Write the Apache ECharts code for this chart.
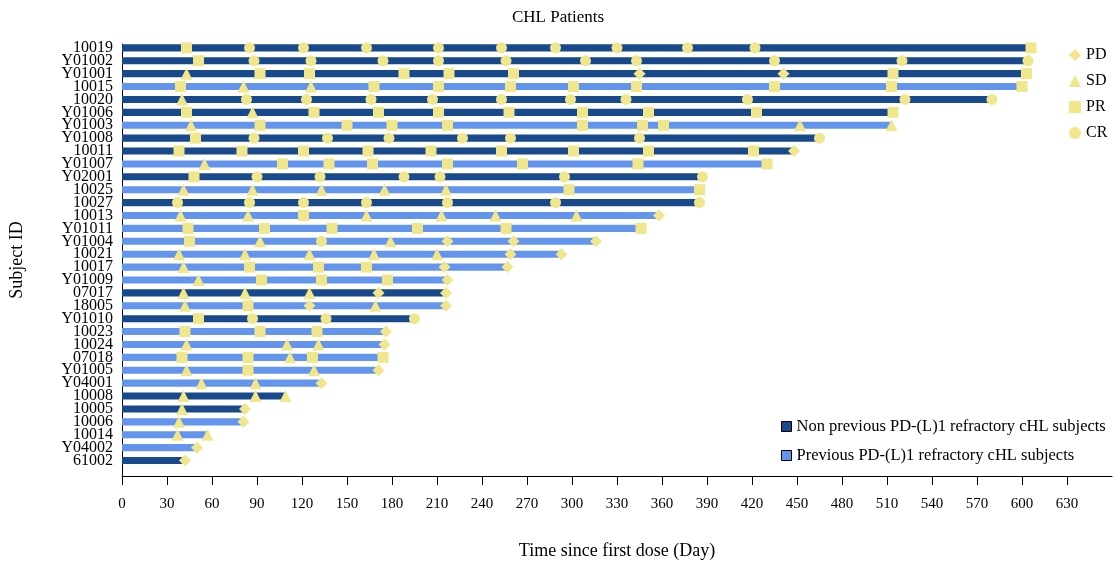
<!DOCTYPE html>
<html>
<head>
<meta charset="utf-8">
<title>CHL Patients</title>
<script src="https://cdn.jsdelivr.net/npm/echarts@6/dist/echarts.min.js"></script>
<style>
  html, body { margin: 0; padding: 0; background: #fff; }
  #chart { width: 1116px; height: 568px; }
</style>
</head>
<body>
<div id="chart"></div>
<script>
// Subjects, top to bottom
const subjects = ['10019','Y01002','Y01001','10015','10020','Y01006','Y01003','Y01008','10011','Y01007',
  'Y02001','10025','10027','10013','Y01011','Y01004','10021','10017','Y01009','07017',
  '18005','Y01010','10023','10024','07018','Y01005','Y04001','10008','10005','10006',
  '10014','Y04002','61002'];

// 1 = previous PD-(L)1 refractory cHL subject, 0 = non previous
const refractory = [0,0,0,1,0,0,1,0,0,1,
  0,1,0,1,1,1,1,1,1,0,
  1,0,1,1,1,1,1,0,0,1,
  1,1,0];

// Time on study (days)
const duration = [606,604,603,600,580,514,513,465,448,430,
  387,385,385,358,346,316,293,257,217,216,
  216,195,176,175,174,171,133,109,82,81,
  57,50,42];

// Response assessments per subject: [day, response]
const visits = [
  [[43,'PR'],[85,'CR'],[121,'CR'],[163,'CR'],[211,'CR'],[253,'CR'],[289,'CR'],[330,'CR'],[377,'CR'],[422,'CR'],[606,'PR']],
  [[51,'PR'],[88,'CR'],[126,'CR'],[174,'CR'],[211,'CR'],[256,'CR'],[309,'CR'],[343,'CR'],[435,'CR'],[520,'CR'],[604,'CR']],
  [[43,'SD'],[92,'PR'],[125,'PR'],[188,'PR'],[218,'PR'],[261,'PR'],[345,'PD'],[441,'PD'],[514,'PR'],[603,'PR']],
  [[39,'PR'],[81,'SD'],[126,'SD'],[168,'PR'],[211,'PR'],[259,'PR'],[301,'PR'],[343,'PR'],[435,'PR'],[513,'PR'],[600,'PR']],
  [[40,'SD'],[83,'CR'],[123,'CR'],[166,'CR'],[207,'CR'],[253,'CR'],[299,'CR'],[336,'CR'],[417,'CR'],[522,'CR'],[580,'CR']],
  [[43,'PR'],[87,'SD'],[128,'PR'],[171,'PR'],[211,'PR'],[258,'PR'],[307,'PR'],[351,'PR'],[423,'PR'],[514,'PR']],
  [[46,'SD'],[92,'PR'],[150,'PR'],[180,'PR'],[217,'PR'],[307,'PR'],[347,'PR'],[361,'PR'],[452,'SD'],[513,'SD']],
  [[49,'PR'],[88,'CR'],[137,'CR'],[178,'CR'],[227,'CR'],[259,'CR'],[345,'CR'],[465,'CR']],
  [[38,'PR'],[80,'PR'],[121,'PR'],[164,'PR'],[206,'PR'],[253,'PR'],[301,'PR'],[351,'PR'],[421,'PR'],[448,'PD']],
  [[55,'SD'],[107,'PR'],[138,'PR'],[167,'PR'],[217,'PR'],[267,'PR'],[344,'PR'],[430,'PR']],
  [[48,'PR'],[90,'CR'],[132,'CR'],[188,'CR'],[212,'CR'],[295,'CR'],[387,'CR']],
  [[41,'SD'],[87,'SD'],[133,'SD'],[175,'SD'],[216,'SD'],[298,'PR'],[385,'PR']],
  [[37,'CR'],[85,'CR'],[121,'CR'],[163,'CR'],[217,'CR'],[289,'CR'],[385,'CR']],
  [[39,'SD'],[84,'SD'],[121,'PR'],[163,'SD'],[213,'SD'],[249,'SD'],[303,'SD'],[358,'PD']],
  [[44,'PR'],[95,'PR'],[140,'PR'],[197,'PR'],[256,'PR'],[346,'PR']],
  [[45,'PR'],[92,'SD'],[133,'CR'],[179,'SD'],[217,'PD'],[261,'PD'],[316,'PD']],
  [[38,'SD'],[82,'SD'],[125,'SD'],[168,'SD'],[210,'SD'],[259,'PD'],[293,'PD']],
  [[41,'SD'],[85,'PR'],[131,'PR'],[163,'PR'],[215,'PD'],[257,'PD']],
  [[51,'SD'],[93,'PR'],[133,'PR'],[177,'PR'],[217,'PD']],
  [[41,'SD'],[82,'SD'],[125,'SD'],[171,'PD'],[216,'PD']],
  [[42,'SD'],[84,'PR'],[125,'PD'],[169,'SD'],[216,'PD']],
  [[51,'PR'],[87,'CR'],[136,'CR'],[195,'CR']],
  [[42,'PR'],[92,'PR'],[130,'PR'],[176,'PD']],
  [[43,'SD'],[110,'SD'],[131,'SD'],[175,'PD']],
  [[40,'PR'],[84,'PR'],[112,'SD'],[127,'PR'],[174,'PR']],
  [[43,'SD'],[84,'PR'],[128,'SD'],[171,'PD']],
  [[53,'SD'],[89,'SD'],[133,'PD']],
  [[41,'SD'],[89,'SD'],[109,'SD']],
  [[40,'SD'],[82,'PD']],
  [[38,'SD'],[81,'PD']],
  [[37,'SD'],[57,'SD']],
  [[50,'PD']],
  [[42,'PD']]
];

// Tick labels on the time axis
const dayTicks = [0,30,60,90,120,150,180,210,240,270,300,330,360,390,420,450,480,510,540,570,600,630];

const groupNames = ['Non previous PD-(L)1 refractory cHL subjects', 'Previous PD-(L)1 refractory cHL subjects'];
const groupColors = ['#18498b', '#6495ed'];
const responseTypes = ['PD', 'SD', 'PR', 'CR'];
const responseSymbols = { PD: 'diamond', SD: 'triangle', PR: 'rect', CR: 'circle' };
const responseSizes = { PD: 12, SD: 12, PR: 11, CR: 11 };
const markerColor = '#f0e68c';
const FONT = '"Liberation Serif", "Times New Roman", serif';

const rowIndex = subjects.map((_, i) => i);

// Lane axis extent: a little room above the first lane and below the last one
const laneMin = -0.3;
const laneMax = 33.2;
// Outermost entries are blank padding so the min/max label handling leaves real labels alone
const laneLabelValues = [laneMin + 0.05].concat(rowIndex, [laneMax - 0.05]);

// Swimmer lanes, one custom series per cohort
const laneSeries = groupNames.map((name, g) => ({
  name: name,
  type: 'custom',
  itemStyle: { color: groupColors[g] },
  encode: { x: 0, y: 1 },
  data: rowIndex.filter(i => refractory[i] === g).map(i => [duration[i], i]),
  renderItem: function (params, api) {
    const row = api.value(1);
    const start = api.coord([0, row]);
    const end = api.coord([api.value(0), row]);
    const h = api.size([0, 1])[1] * 0.55;
    return {
      type: 'rect',
      shape: { x: start[0], y: start[1] - h / 2, width: end[0] - start[0], height: h },
      style: api.style()
    };
  },
  z: 2
}));

// Response markers, one scatter series per response category
const markerSeries = responseTypes.map(code => {
  const pts = [];
  visits.forEach((list, i) => {
    list.forEach(v => { if (v[1] === code) pts.push([v[0], i]); });
  });
  return {
    name: code,
    type: 'scatter',
    symbol: responseSymbols[code],
    symbolSize: responseSizes[code],
    itemStyle: { color: markerColor, opacity: 1 },
    data: pts,
    z: 3
  };
});

const chart = echarts.init(document.getElementById('chart'), null, { renderer: 'canvas' });
chart.setOption({
  animation: false,
  backgroundColor: '#ffffff',
  textStyle: { fontFamily: FONT, color: '#000' },
  title: {
    text: 'CHL Patients',
    left: 'center',
    top: 4,
    textStyle: { fontFamily: FONT, fontSize: 17, fontWeight: 'normal', color: '#000' }
  },
  legend: [
    {
      data: responseTypes.map(c => ({ name: c, icon: responseSymbols[c] })),
      orient: 'vertical',
      left: 1064,
      top: 42,
      itemWidth: 12,
      itemHeight: 12,
      itemGap: 10,
      selectedMode: false,
      textStyle: { fontFamily: FONT, fontSize: 16, color: '#000' }
    },
    {
      data: groupNames.map(n => ({ name: n, icon: 'rect' })),
      orient: 'vertical',
      left: 776,
      top: 413,
      itemWidth: 10,
      itemHeight: 10,
      itemGap: 12,
      itemStyle: { borderColor: '#000', borderWidth: 1 },
      selectedMode: false,
      textStyle: { fontFamily: FONT, fontSize: 16.5, color: '#000' }
    }
  ],
  grid: { left: 122, right: 4, top: 44, bottom: 92, containLabel: false },
  xAxis: {
    type: 'value',
    min: 0,
    max: 660,
    name: 'Time since first dose (Day)',
    nameLocation: 'middle',
    nameGap: 66,
    nameTextStyle: { fontFamily: FONT, fontSize: 18, color: '#000' },
    axisLine: { show: true, onZero: false, lineStyle: { color: '#000', width: 1 } },
    axisTick: { show: true, customValues: dayTicks, length: 9, lineStyle: { color: '#000' } },
    axisLabel: { customValues: dayTicks, margin: 21, fontFamily: FONT, fontSize: 15, color: '#000' },
    splitLine: { show: false }
  },
  yAxis: {
    type: 'value',
    inverse: true,
    min: laneMin,
    max: laneMax,
    name: 'Subject ID',
    nameLocation: 'middle',
    nameGap: 96,
    nameRotate: 90,
    nameTextStyle: { fontFamily: FONT, fontSize: 18, color: '#000' },
    axisLine: { show: true, onZero: false, lineStyle: { color: '#000', width: 1 } },
    axisTick: { show: false },
    axisLabel: {
      customValues: laneLabelValues,
      formatter: v => (Number.isInteger(v) ? subjects[v] : ''),
      showMinLabel: false,
      showMaxLabel: false,
      hideOverlap: false,
      margin: 9,
      fontFamily: FONT,
      fontSize: 16,
      color: '#000'
    },
    splitLine: { show: false }
  },
  series: laneSeries.concat(markerSeries)
});
</script>
</body>
</html>
